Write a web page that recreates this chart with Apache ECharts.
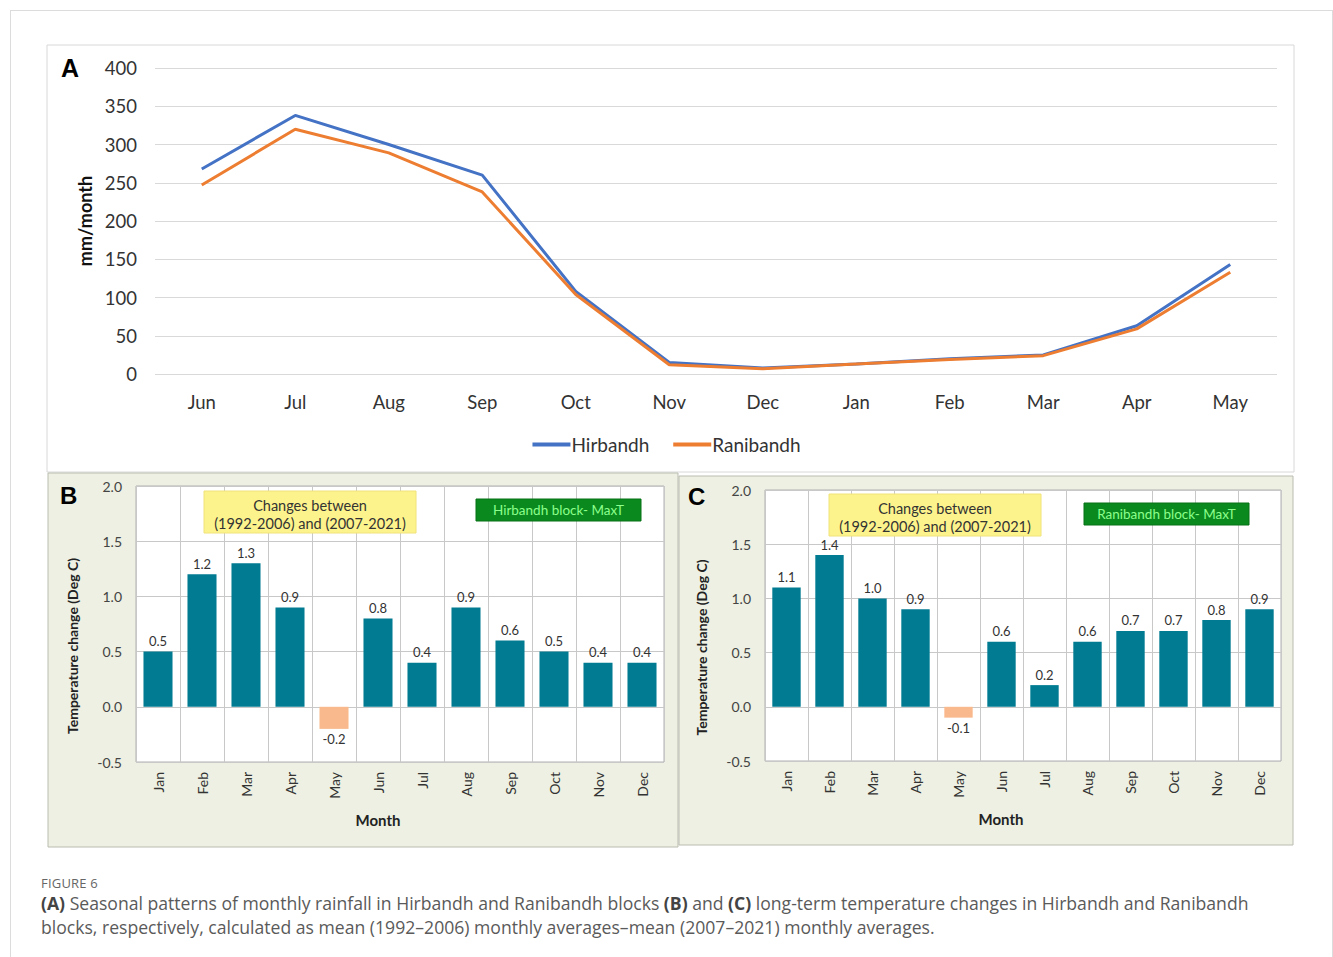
<!DOCTYPE html>
<html>
<head>
<meta charset="utf-8">
<script src="https://cdn.jsdelivr.net/npm/echarts@6/dist/echarts.min.js"></script>
<style>
html,body{margin:0;padding:0;background:#fff;}
#chart{width:1333px;height:957px;position:absolute;left:0;top:0;}
#frame{position:absolute;left:10px;top:10px;width:1323px;height:960px;border:1px solid #dcdcdc;box-sizing:border-box;}
#caption{position:absolute;left:41px;top:874px;font-family:"Open Sans",sans-serif;color:#5a5a5a;}
#caption .fig{font-size:13px;letter-spacing:0.2px;color:#666;}
#caption .txt{font-size:17.6px;line-height:24px;margin-top:-1px;}
#caption b{color:#444;}
</style>
</head>
<body>
<div id="frame"></div>
<div id="chart"></div>
<div id="caption">
  <div class="fig">FIGURE 6</div>
  <div class="txt"><b>(A)</b> Seasonal patterns of monthly rainfall in Hirbandh and Ranibandh blocks <b>(B)</b> and <b>(C)</b> long-term temperature changes in Hirbandh and Ranibandh<br>blocks, respectively, calculated as mean (1992–2006) monthly averages–mean (2007–2021) monthly averages.</div>
</div>
<script>
// 降雨 (A)
var rainMonths = ['Jun','Jul','Aug','Sep','Oct','Nov','Dec','Jan','Feb','Mar','Apr','May'];
var hirbandhRain = [268, 338, 300, 260, 108, 15, 8, 13, 20, 25, 63, 143];
var ranibandhRain = [247, 320, 289, 238, 104, 12, 7, 13, 19, 24, 59, 133];

// 温度变化 (B, C)
var tempMonths = ['Jan','Feb','Mar','Apr','May','Jun','Jul','Aug','Sep','Oct','Nov','Dec'];
var hirbandhMaxT = [0.5, 1.2, 1.3, 0.9, -0.2, 0.8, 0.4, 0.9, 0.6, 0.5, 0.4, 0.4];
var ranibandhMaxT = [1.1, 1.4, 1.0, 0.9, -0.1, 0.6, 0.2, 0.6, 0.7, 0.7, 0.8, 0.9];

var FONT = 'Lato, sans-serif';
var BAR_COLOR = '#007b91';
var NEG_COLOR = '#f9b98c';

function barData(arr){
    return arr.map(function(v){
        if(v < 0){
            return {value: v, itemStyle: {color: NEG_COLOR}, label: {position: 'bottom'}};
        }
        return {value: v};
    });
}

function tempXAxis(idx){
    return {
        type: 'category', gridIndex: idx, data: tempMonths,
        name: 'Month', nameLocation: 'middle', nameGap: 50,
        nameTextStyle: {fontFamily: FONT, fontWeight: 'bold', fontSize: 15, color: '#222', padding: [0, 44, 0, 0]},
        axisLine: {show: false}, axisTick: {show: false},
        axisLabel: {rotate: 90, fontFamily: FONT, fontSize: 14, color: '#333', margin: 10},
        splitLine: {show: true, lineStyle: {color: '#c8c8c8'}}
    };
}
function tempYAxis(idx){
    return {
        type: 'value', gridIndex: idx, min: -0.5, max: 2.0, interval: 0.5,
        name: 'Temperature change (Deg C)', nameLocation: 'middle', nameGap: 57,
        nameTextStyle: {fontFamily: FONT, fontWeight: 'bold', fontSize: 14, color: '#222', padding: [0, 44, 0, 0]},
        axisLine: {show: false}, axisTick: {show: false},
        axisLabel: {fontFamily: FONT, fontSize: 14, color: '#444', margin: 14,
            formatter: function(v){ return v.toFixed(1); }},
        splitLine: {lineStyle: {color: '#c8c8c8'}}
    };
}
function tempSeries(idx, arr){
    return {
        type: 'bar', xAxisIndex: idx, yAxisIndex: idx, data: barData(arr),
        barWidth: '66%', itemStyle: {color: BAR_COLOR},
        label: {show: true, position: 'top', distance: 4, fontFamily: FONT, fontSize: 13, color: '#333',
            formatter: function(p){ return p.value.toFixed(1); }},
        silent: true
    };
}

function noteBoxes(x1, y1, x2, y2, green){
    return [
        {type: 'rect', shape: {x: x1, y: y1, width: 212, height: 42},
         style: {fill: '#fdf38c', stroke: '#f0e27a'}, z: 10},
        {type: 'text', x: x1 + 106, y: y1 + 5, z: 11,
         style: {text: 'Changes between\n(1992-2006) and (2007-2021)', fill: '#333', font: '14.5px ' + FONT,
                 align: 'center', lineHeight: 18}},
        {type: 'rect', shape: {x: x2, y: y2, width: 165, height: 22},
         style: {fill: '#0a8a1e', stroke: '#067016'}, z: 10},
        {type: 'text', x: x2 + 82.5, y: y2 + 4, z: 11,
         style: {text: green, fill: '#8cff8c', font: '13.5px ' + FONT, align: 'center'}}
    ];
}

var myChart = echarts.init(document.getElementById('chart'), null, {renderer: 'svg'});

var option = {
    animation: false,
    graphic: [
        {type: 'rect', shape: {x: 47, y: 45, width: 1247, height: 427}, style: {fill: '#fff', stroke: '#d8d8d8'}, z: -10},
        {type: 'rect', shape: {x: 48, y: 473, width: 630, height: 374}, style: {fill: '#edf0e2', stroke: '#b9bcb0'}, z: -10},
        {type: 'rect', shape: {x: 679, y: 476, width: 614, height: 369}, style: {fill: '#edf0e2', stroke: '#b9bcb0'}, z: -10},
        {type: 'text', x: 61, y: 55, style: {text: 'A', font: 'bold 25px "Liberation Sans", Arial', fill: '#000'}},
        {type: 'text', x: 60, y: 483, style: {text: 'B', font: 'bold 24px "Liberation Sans", Arial', fill: '#000'}},
        {type: 'text', x: 688, y: 484, style: {text: 'C', font: 'bold 24px "Liberation Sans", Arial', fill: '#000'}}
    ].concat(noteBoxes(204, 491, 476, 499, 'Hirbandh block- MaxT'))
     .concat(noteBoxes(829, 494, 1084, 503, 'Ranibandh block- MaxT')),
    legend: {
        top: 430, left: 'center', itemGap: 24, itemWidth: 38, itemHeight: 4,
        icon: 'rect', textStyle: {fontFamily: FONT, fontSize: 19, color: '#333', padding: [0, 0, 0, -4]},
        data: ['Hirbandh', 'Ranibandh']
    },
    grid: [
        {left: 155, right: 56, top: 68, bottom: 583},
        {left: 136, right: 669, top: 486, bottom: 195, show: true, backgroundColor: '#fff', borderColor: '#b0b0b0', borderWidth: 1},
        {left: 765, right: 52, top: 490, bottom: 196, show: true, backgroundColor: '#fff', borderColor: '#b0b0b0', borderWidth: 1}
    ],
    xAxis: [
        {
            type: 'category', gridIndex: 0, data: rainMonths,
            axisLine: {show: false}, axisTick: {show: false},
            axisLabel: {fontFamily: FONT, fontSize: 18.5, color: '#333', margin: 18}
        },
        tempXAxis(1),
        tempXAxis(2)
    ],
    yAxis: [
        {
            type: 'value', gridIndex: 0, min: 0, max: 400, interval: 50,
            name: 'mm/month', nameLocation: 'middle', nameGap: 60,
            nameTextStyle: {fontFamily: FONT, fontWeight: 'bold', fontSize: 18, color: '#111'},
            axisLine: {show: false}, axisTick: {show: false},
            axisLabel: {fontFamily: FONT, fontSize: 18.5, color: '#333', margin: 18},
            splitLine: {lineStyle: {color: '#d9d9d9'}}
        },
        tempYAxis(1),
        tempYAxis(2)
    ],
    series: [
        {name: 'Hirbandh', type: 'line', xAxisIndex: 0, yAxisIndex: 0, data: hirbandhRain,
         showSymbol: false, symbol: 'none', lineStyle: {width: 3, color: '#4472c4'}, itemStyle: {color: '#4472c4'}, z: 3},
        {name: 'Ranibandh', type: 'line', xAxisIndex: 0, yAxisIndex: 0, data: ranibandhRain,
         showSymbol: false, symbol: 'none', lineStyle: {width: 3, color: '#ed7d31'}, itemStyle: {color: '#ed7d31'}, z: 4},
        tempSeries(1, hirbandhMaxT),
        tempSeries(2, ranibandhMaxT)
    ]
};

myChart.setOption(option);
</script>
</body>
</html>
